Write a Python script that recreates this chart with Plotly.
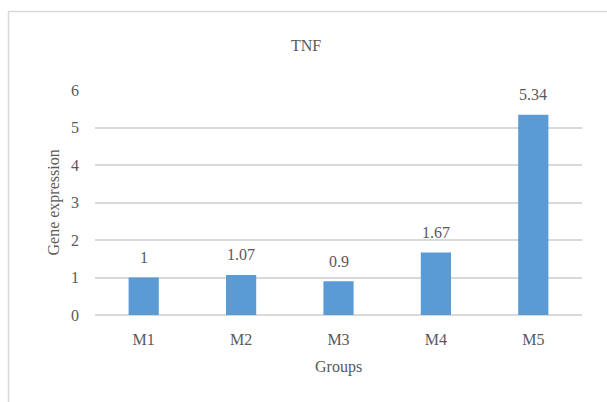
import plotly.graph_objects as go

groups = ["M1", "M2", "M3", "M4", "M5"]
expression = [1, 1.07, 0.9, 1.67, 5.34]
value_labels = ["1", "1.07", "0.9", "1.67", "5.34"]
y_ticks = [0, 1, 2, 3, 4, 5, 6]

W, H = 607, 402
L, R, T, B = 95, 25, 90, 87

FONT = "Liberation Serif"
TXT = "#595959"
GRID = "#d9d9d9"
BAR = "#5B9BD5"
FS = 16

fig = go.Figure(
    go.Bar(
        x=groups,
        y=expression,
        marker=dict(color=BAR, line=dict(width=0)),
        hoverinfo="skip",
    )
)

# value labels above each bar
for g, v, lab in zip(groups, expression, value_labels):
    fig.add_annotation(
        x=g, y=v, text=lab, showarrow=False,
        yanchor="middle", yshift=20,
        font=dict(family=FONT, size=FS, color=TXT),
    )

pw = W - L - R
ph = H - T - B

def px_x(p):
    return (p - L) / pw

def px_y(p):
    return (H - B - p) / ph

# chart title
fig.add_annotation(
    x=px_x(306), y=px_y(45), xref="paper", yref="paper",
    text="TNF", showarrow=False, xanchor="center", yanchor="middle",
    font=dict(family=FONT, size=FS, color=TXT),
)
# axis titles
fig.add_annotation(
    x=px_x(53), y=0.5, xref="paper", yref="paper",
    text="Gene expression", showarrow=False, textangle=-90,
    xanchor="center", yanchor="middle",
    font=dict(family=FONT, size=FS, color=TXT),
)
fig.add_annotation(
    x=0.5, y=px_y(367), xref="paper", yref="paper",
    text="Groups", showarrow=False, xanchor="center", yanchor="middle",
    font=dict(family=FONT, size=FS, color=TXT),
)

# chart area frame
fig.add_shape(
    type="rect", xref="paper", yref="paper",
    x0=px_x(8.5), y0=px_y(11.5), x1=px_x(640), y1=px_y(440),
    line=dict(color=GRID, width=1.5), fillcolor="rgba(0,0,0,0)",
    layer="below",
)

fig.update_layout(
    width=W, height=H,
    margin=dict(l=L, r=R, t=T, b=B, pad=0),
    paper_bgcolor="white", plot_bgcolor="white",
    bargap=0.69,
    showlegend=False,
    font=dict(family=FONT, size=FS, color=TXT),
)
fig.update_xaxes(
    showgrid=False, showline=False, ticks="",
    tickfont=dict(family=FONT, size=FS, color=TXT),
    ticklabelstandoff=13,
)
fig.update_yaxes(
    range=[0, 6], tickvals=y_ticks, showgrid=True, gridcolor=GRID, gridwidth=1.5,
    zeroline=True, zerolinecolor=GRID, zerolinewidth=1.5,
    showline=False, ticks="",
    tickfont=dict(family=FONT, size=FS, color=TXT),
    ticklabelstandoff=15,
)

fig.write_html("out.html")
